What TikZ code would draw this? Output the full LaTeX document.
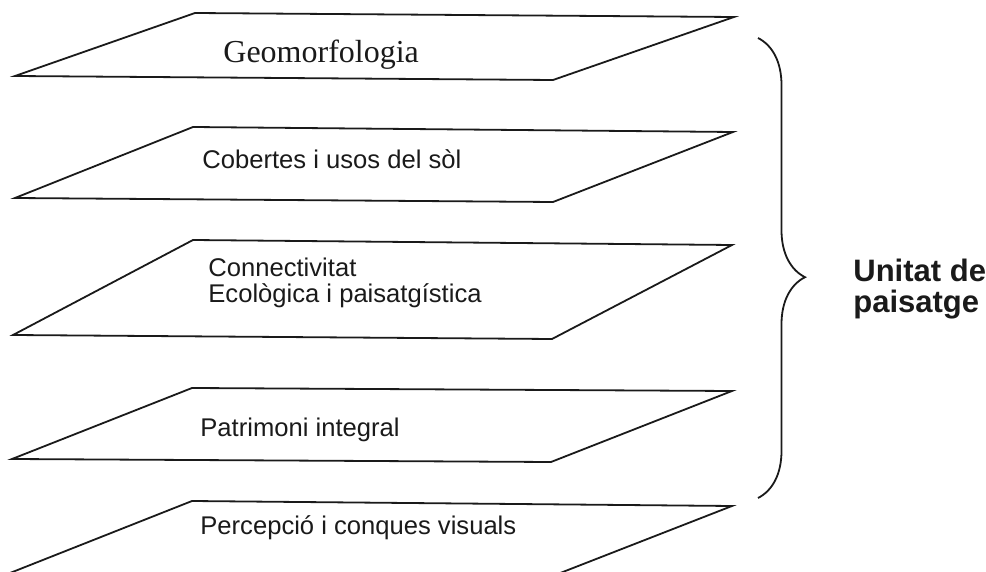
\documentclass[tikz,border=0pt]{standalone}
\usepackage{fontspec}
\setmainfont{Liberation Serif}
\setsansfont{Liberation Sans}
\usepackage{xcolor}
\definecolor{inkBlack}{HTML}{1A1A1A}
\usepackage{tikz}
\usetikzlibrary{
    decorations.pathreplacing
}
\tikzset{
    % Layer plates - flat parallelograms
    plate/.style={
        draw=inkBlack,
        line width=0.9pt,
        line join=miter,
    },
    % Base style for the layer texts
    layer base/.style={
        text=inkBlack,
        anchor=base west,
        inner sep=0pt,
        align=left,
    },
    % Top layer uses a serif face
    serif label/.style={
        layer base,
        font=\rmfamily\fontsize{16}{16}\selectfont,
    },
    % Other layers use a sans face
    layer label/.style={
        layer base,
        font=\sffamily\fontsize{12.8}{13}\selectfont,
    },
    % Curly brace that groups the layers
    group brace/.style={
        draw=inkBlack,
        line width=0.9pt,
        decorate,
        decoration={brace, amplitude=23.5pt, aspect=0.52},
    },
    % Bold label at the right
    group label/.style={
        layer base,
        font=\sffamily\bfseries\fontsize{15.5}{15.5}\selectfont,
    },
}

\begin{document}
\begin{tikzpicture}[x=0.5pt, y=-0.5pt]
    \path [use as bounding box] (0,0) rectangle (986,572);
    \clip (0,0) rectangle (986,572);

    % the five layers, top to bottom
    \draw [plate] (195,13) -- (734,17) -- (553,80) -- (15,76) -- cycle;
    \draw [plate] (193,127) -- (733,132) -- (553,202) -- (15,198) -- cycle;
    \draw [plate] (193,240) -- (732,245) -- (552,339) -- (13,335) -- cycle;
    \draw [plate] (192,388) -- (732,391) -- (551,462) -- (12,459) -- cycle;
    \draw [plate] (192,501) -- (732,506) -- (550,577) -- (10,573) -- cycle;

    % base anchor of a two-line node sits on its last line
    \node (geomorfologia) [serif label] at (223,63) {Geomorfologia};
    \node (cobertes) [layer label] at (202,169) {Cobertes i usos del sòl};
    \node (connectivitat) [layer label] at (208,303) {Connectivitat\\Ecològica i paisatgística};
    \node (patrimoni) [layer label] at (200,437) {Patrimoni integral};
    \node (percepcio) [layer label] at (200,534) {Percepció i conques visuals};

    \coordinate (brace top) at (758,38);
    \coordinate (brace bottom) at (758,498);
    \draw [group brace] (brace top) -- (brace bottom);

    \node (unitat) [group label] at (853,313) {Unitat de\\paisatge};
\end{tikzpicture}
\end{document}
